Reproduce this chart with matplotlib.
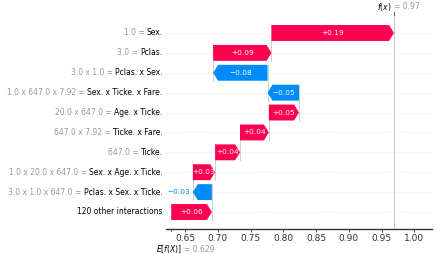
import matplotlib
matplotlib.use("Agg")
import matplotlib.pyplot as plt
from matplotlib.transforms import offset_copy
import numpy as np

# data (bottom row first)
feature_values = ["", "3.0 x 1.0 x 647.0", "1.0 x 20.0 x 647.0", "647.0", "647.0 x 7.92",
                  "20.0 x 647.0", "1.0 x 647.0 x 7.92", "3.0 x 1.0", "3.0", "1.0"]
feature_names = ["120 other interactions", "Pclas. x Sex. x Ticke.", "Sex. x Age. x Ticke.",
                 "Ticke.", "Ticke. x Fare.", "Age. x Ticke.", "Sex. x Ticke. x Fare.",
                 "Pclas. x Sex.", "Pclas.", "Sex."]
shap_values = [0.062, -0.029, 0.034, 0.038, 0.044, 0.046, -0.048, -0.083, 0.089, 0.187]
base_value = 0.629
x_ticks = [0.65, 0.70, 0.75, 0.80, 0.85, 0.90, 0.95, 1.00]

RED = "#ff0051"
BLUE = "#008bfb"

fig = plt.figure(figsize=(4.36, 2.54), dpi=100)
ax = fig.add_axes([166/436, 1-229/254, (432.3-166)/436, (229-15)/254])
ax.set_xlim(0.621, 1.0275)
ax.set_ylim(-0.855, 9.905)

n = len(shap_values)
starts = base_value + np.concatenate([[0], np.cumsum(shap_values)[:-1]])
fx = base_value + np.sum(shap_values)

for i in range(n):
    ax.axhline(i, color="#cccccc", lw=0.5, dashes=(1, 3), zorder=-1)

hl = 0.0075
fig.canvas.draw()
renderer = fig.canvas.get_renderer()
for i, (s, v) in enumerate(zip(starts, shap_values)):
    col = RED if v > 0 else BLUE
    ax.arrow(s, i, v, 0, width=0.8, head_width=0.8, head_length=min(hl, abs(v)),
             length_includes_head=True, color=col, lw=0, zorder=3)
    if i > 0:
        ax.plot([s, s], [i - 1 - 0.4, i + 0.4], color="#bbbbbb", lw=0.5, zorder=1)
    lab = ("+%.2f" % v) if v > 0 else ("\u2212%.2f" % abs(v))
    t = ax.text(s + v/2, i, lab, ha="center", va="center", color="white", fontsize=5.3, zorder=4)
    tw = t.get_window_extent(renderer).width
    x0 = ax.transData.transform((s, i))[0]
    x1 = ax.transData.transform((s + v, i))[0]
    if tw > abs(x1 - x0) + 1:
        t.remove()
        if v < 0:
            ax.annotate(lab, xy=(s + v, i), xytext=(-2.5, 0), textcoords="offset points",
                        ha="right", va="center", color=BLUE, fontsize=5.3)
        else:
            ax.annotate(lab, xy=(s + v, i), xytext=(2.5, 0), textcoords="offset points",
                        ha="left", va="center", color=RED, fontsize=5.3)

# fx line
ax.axvline(fx, color="#bbbbbb", lw=0.6, zorder=0)

# y labels: black name, grey "value =" to its left
ax.set_yticks([])
ytrans = ax.get_yaxis_transform()
for i, (fv, nm) in enumerate(zip(feature_values, feature_names)):
    tr = offset_copy(ytrans, fig=fig, x=-2.5, y=0, units="points")
    t = ax.text(0, i, nm, transform=tr, ha="right", va="center", fontsize=5.5, color="black")
    if fv:
        w = t.get_window_extent(renderer).width
        tr2 = offset_copy(ytrans, fig=fig, x=-2.5 - w * 72 / fig.dpi - 1.5, y=0, units="points")
        ax.text(0, i, fv + " =", transform=tr2, ha="right", va="center", fontsize=5.5,
                color="#999999")

ax.set_xticks(x_ticks)
ax.set_xticklabels(["%.2f" % t for t in x_ticks], fontsize=6.5)
ax.tick_params(axis="x", length=2, width=0.6, color="#333333", pad=1.5, labelcolor="#333333")
for sp in ["left", "top", "right"]:
    ax.spines[sp].set_visible(False)
ax.spines["bottom"].set_color("#333333")
ax.spines["bottom"].set_linewidth(1.0)

# base tick
ax.plot([base_value, base_value], [0, -0.01], transform=ax.get_xaxis_transform(),
        color="#333333", lw=0.6, clip_on=False)
# fx tick at top
ax.plot([fx, fx], [1, 1.015], transform=ax.get_xaxis_transform(),
        color="#333333", lw=0.6, clip_on=False)

ax.annotate("$E[f(X)]$", xy=(base_value, 0), xycoords=("data", "axes fraction"),
            xytext=(7.5, -14.5), textcoords="offset points", ha="right", va="center",
            fontsize=5.5, color="black")
ax.annotate("= %.3f" % base_value, xy=(base_value, 0), xycoords=("data", "axes fraction"),
            xytext=(9, -14.5), textcoords="offset points", ha="left", va="center",
            fontsize=5.5, color="#999999")
ax.annotate("$f(x)$", xy=(fx, 1), xycoords=("data", "axes fraction"),
            xytext=(-1.5, 6), textcoords="offset points", ha="right", va="center",
            fontsize=5.5, color="black")
ax.annotate("= %.2f" % fx, xy=(fx, 1), xycoords=("data", "axes fraction"),
            xytext=(0, 6), textcoords="offset points", ha="left", va="center",
            fontsize=5.5, color="#999999")

fig.savefig("out.png", dpi=100)
